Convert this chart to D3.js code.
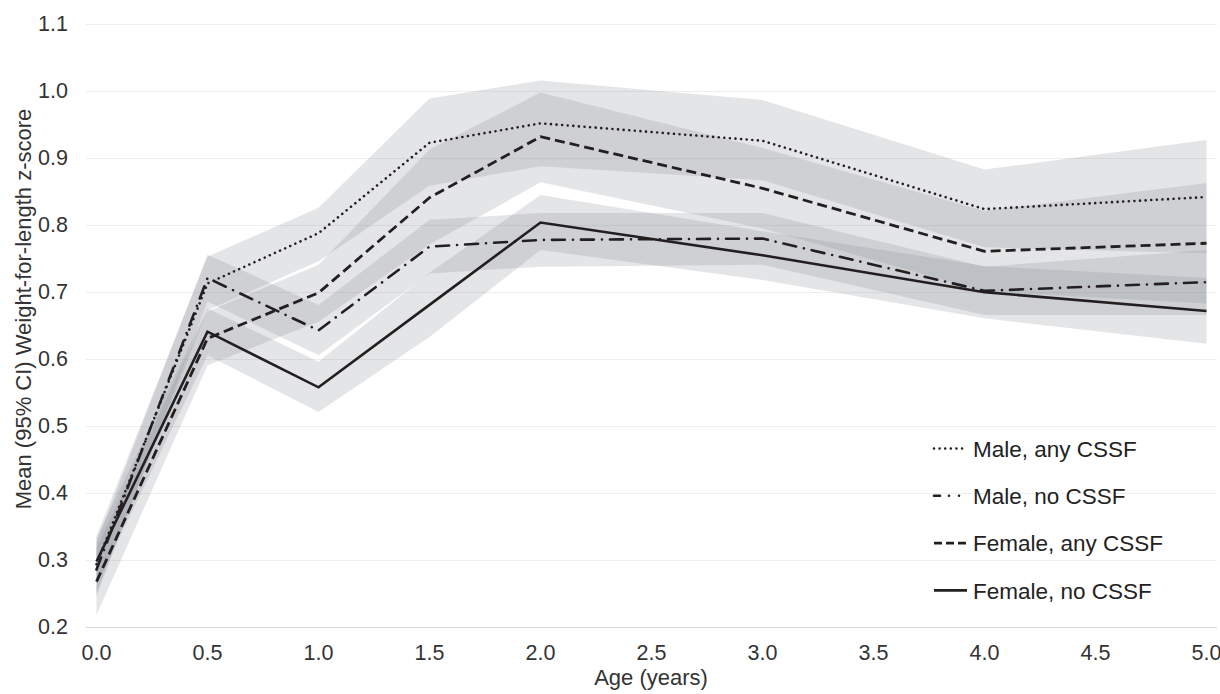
<!DOCTYPE html>
<html>
<head>
<meta charset="utf-8">
<script src="https://cdn.jsdelivr.net/npm/d3@7"></script>
<style>
  html, body { margin: 0; padding: 0; background: #fff; }
  svg { display: block; font-family: "Liberation Sans", Arial, sans-serif; }
</style>
</head>
<body>
<div id="chart"></div>
<script>
// age points (years)
var ages = [0, 0.5, 1, 1.5, 2, 3, 4, 5];
var xTicks = [0, 0.5, 1, 1.5, 2, 2.5, 3, 3.5, 4, 4.5, 5];
var yTicks = [0.2, 0.3, 0.4, 0.5, 0.6, 0.7, 0.8, 0.9, 1.0, 1.1];

// mean and 95% CI per group
var maleAnyMean = [0.293, 0.712, 0.787, 0.922, 0.951, 0.925, 0.823, 0.841];
var maleAnyLo   = [0.250, 0.672, 0.745, 0.858, 0.887, 0.866, 0.766, 0.757];
var maleAnyHi   = [0.335, 0.752, 0.825, 0.988, 1.015, 0.986, 0.882, 0.926];

var maleNoMean = [0.285, 0.720, 0.642, 0.767, 0.777, 0.779, 0.701, 0.714];
var maleNoLo   = [0.245, 0.685, 0.605, 0.727, 0.737, 0.740, 0.665, 0.665];
var maleNoHi   = [0.325, 0.755, 0.680, 0.807, 0.817, 0.817, 0.737, 0.762];

var femaleAnyMean = [0.267, 0.630, 0.698, 0.840, 0.931, 0.854, 0.760, 0.772];
var femaleAnyLo   = [0.217, 0.590, 0.655, 0.770, 0.863, 0.794, 0.700, 0.682];
var femaleAnyHi   = [0.317, 0.670, 0.740, 0.912, 0.997, 0.914, 0.820, 0.862];

var femaleNoMean = [0.297, 0.640, 0.557, 0.680, 0.803, 0.754, 0.699, 0.671];
var femaleNoLo   = [0.262, 0.605, 0.520, 0.632, 0.762, 0.717, 0.660, 0.622];
var femaleNoHi   = [0.332, 0.675, 0.595, 0.728, 0.844, 0.790, 0.738, 0.720];

var groupNames = ["Male, any CSSF", "Male, no CSSF", "Female, any CSSF", "Female, no CSSF"];

var width = 1220, height = 694;
var ink = "#231f20";

var styles = [
    { dash: "0.01 5.6", cap: "round", w: 2.6, legendDash: "0.01 5.6" },
    { dash: "13 8 0.01 8", cap: "round", w: 2.6, legendDash: "6 9 0.01 10 0.01 40" },
    { dash: "10 5", cap: "butt", w: 2.8, legendDash: "8 4" },
    { dash: null, cap: "butt", w: 2.6, legendDash: null }
];

var groups = [
    { mean: maleAnyMean, lo: maleAnyLo, hi: maleAnyHi },
    { mean: maleNoMean, lo: maleNoLo, hi: maleNoHi },
    { mean: femaleAnyMean, lo: femaleAnyLo, hi: femaleAnyHi },
    { mean: femaleNoMean, lo: femaleNoLo, hi: femaleNoHi }
].map(function (g, i) {
    return {
        name: groupNames[i],
        style: styles[i],
        points: ages.map(function (a, j) {
            return { age: a, mean: g.mean[j], lo: g.lo[j], hi: g.hi[j] };
        })
    };
});

var gridLeft = 86, gridRight = 1217;
var x = d3.scaleLinear().domain([0, 5]).range([96.5, 1206.5]);
var y = d3.scaleLinear().domain([0.2, 1.1]).range([626.5, 23.5]);

var svg = d3.select("#chart").append("svg")
    .attr("width", width)
    .attr("height", height);

// gridlines
svg.append("g").attr("class", "grid")
    .selectAll("line")
    .data(yTicks)
    .enter()
    .append("line")
    .attr("x1", gridLeft)
    .attr("x2", gridRight)
    .attr("y1", function (d) { return Math.round(y(d)) + 0.5; })
    .attr("y2", function (d) { return Math.round(y(d)) + 0.5; })
    .attr("stroke", function (d) { return d === 0.2 ? "#d6d6d6" : "#eeeeee"; })
    .attr("stroke-width", 1);

// CI bands
var area = d3.area()
    .x(function (d) { return x(d.age); })
    .y0(function (d) { return y(d.lo); })
    .y1(function (d) { return y(d.hi); });

svg.append("g").attr("class", "bands")
    .selectAll("path")
    .data(groups)
    .enter()
    .append("path")
    .attr("d", function (d) { return area(d.points); })
    .attr("fill", "rgb(128,132,140)")
    .attr("fill-opacity", 0.21);

// mean lines
var line = d3.line()
    .x(function (d) { return x(d.age); })
    .y(function (d) { return y(d.mean); });

svg.append("g").attr("class", "lines")
    .selectAll("path")
    .data(groups)
    .enter()
    .append("path")
    .attr("d", function (d) { return line(d.points); })
    .attr("fill", "none")
    .attr("stroke", ink)
    .attr("stroke-width", function (d) { return d.style.w; })
    .attr("stroke-linecap", function (d) { return d.style.cap; })
    .attr("stroke-linejoin", "miter")
    .attr("stroke-dasharray", function (d) { return d.style.dash; });

// y tick labels
svg.append("g").attr("class", "ylabels")
    .selectAll("text")
    .data(yTicks)
    .enter()
    .append("text")
    .attr("x", 68)
    .attr("y", function (d) { return y(d); })
    .attr("dy", "0.36em")
    .attr("text-anchor", "end")
    .style("font-size", "21.5px")
    .style("fill", "#333")
    .text(function (d) { return d3.format(".1f")(d); });

// x tick labels
svg.append("g").attr("class", "xlabels")
    .selectAll("text")
    .data(xTicks)
    .enter()
    .append("text")
    .attr("x", function (d) { return x(d); })
    .attr("y", 659.5)
    .attr("text-anchor", "middle")
    .style("font-size", "21.5px")
    .style("fill", "#333")
    .text(function (d) { return d3.format(".1f")(d); });

// axis titles
svg.append("text")
    .attr("x", 651)
    .attr("y", 685)
    .attr("text-anchor", "middle")
    .style("font-size", "22px")
    .style("fill", "#333")
    .text("Age (years)");

svg.append("text")
    .attr("transform", "translate(31,309) rotate(-90)")
    .attr("text-anchor", "middle")
    .style("font-size", "22px")
    .style("fill", "#333")
    .text("Mean (95% CI) Weight-for-length z-score");

// legend
var legend = svg.append("g").attr("class", "legend")
    .selectAll("g")
    .data(groups)
    .enter()
    .append("g")
    .attr("transform", function (d, i) { return "translate(934," + (448.5 + i * 47.3) + ")"; });

legend.append("line")
    .attr("x1", 0)
    .attr("x2", 33)
    .attr("stroke", ink)
    .attr("stroke-width", function (d) { return d.style.w; })
    .attr("stroke-linecap", function (d) { return d.style.cap; })
    .attr("stroke-dasharray", function (d) { return d.style.legendDash; });

legend.append("text")
    .attr("x", 39)
    .attr("dy", "0.36em")
    .style("font-size", "22.5px")
    .style("fill", "#222")
    .text(function (d) { return d.name; });
</script>
</body>
</html>
